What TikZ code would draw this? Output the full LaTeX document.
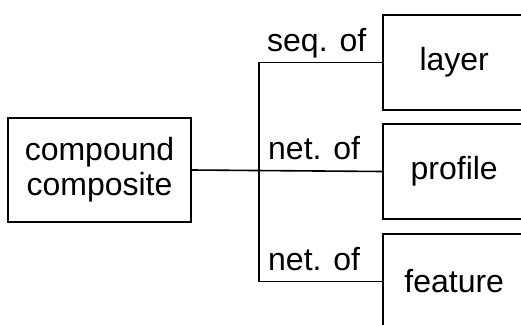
\documentclass[tikz,border=0pt]{standalone}
\usepackage{fontspec}
\setmainfont{Liberation Sans}
\usetikzlibrary{calc,positioning}
% part name, centred in the visible part of a box running off the page
\newcommand{\boxtext}[1]{\makebox[142pt]{#1}\hspace*{58pt}}
\tikzset{
  part box/.style={align=center, inner sep=0pt,
    anchor=west, minimum width=200pt, minimum height=95pt},
  whole box/.style={draw, line width=1.6pt, align=center, inner sep=0pt,
    minimum width=183pt, minimum height=104pt},
  link/.style={line width=1.6pt},
  link label/.style={inner sep=0pt, anchor=base west}
}
\begin{document}
\begin{tikzpicture}[x=1pt, y=-1pt, font=\fontsize{32}{35}\selectfont]
  \useasboundingbox (0,0) rectangle (521,324);
  \clip (0,0) rectangle (521,324);
  \node[whole box] (cc) at (99.5,170) {compound\\composite};
  \node[part box] (layer) at (383,62.5) {\boxtext{layer}};
  \node[part box] (profile) at (383,171.5) {\boxtext{profile}};
  \node[part box] (feature) at (383,281.5) {\boxtext{feature}};
  % boxes run off the right edge of the page
  \foreach \b in {layer,profile,feature}
    \draw[link] (\b.north east) -- (\b.north west) -- (\b.south west) -- (\b.south east);
  \coordinate (split) at (259,171);
  % branches
  \draw[link] (cc.east) -- (profile.west);
  \draw[link] (layer.west) -| (split) |- (feature.west);
  \node[link label] at ($(layer.west -| split)+(8,-11)$) {seq. of};
  \node[link label] at ($(profile.west -| split)+(9,-12)$) {net. of};
  \node[link label] at ($(feature.west -| split)+(9,-11)$) {net. of};
\end{tikzpicture}
\end{document}
